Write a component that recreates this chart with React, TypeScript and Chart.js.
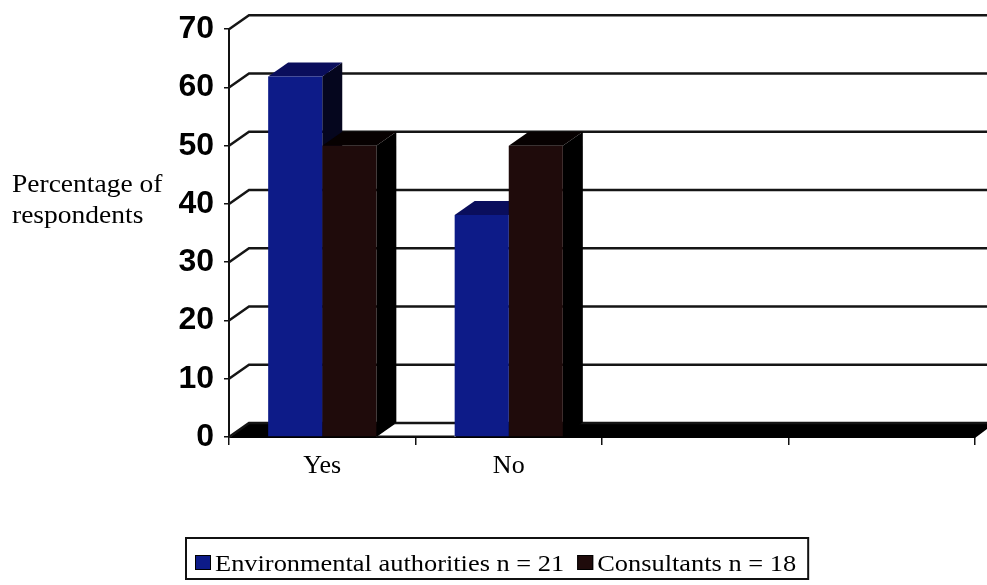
import React, { useEffect, useRef } from 'react';
import { Chart, registerables } from 'chart.js';

Chart.register(...registerables);

// Survey answers, percentage of respondents per group
const CATEGORIES = ['Yes', 'No', '', ''];
const ENV_AUTHORITIES = [61.9, 38.1, 0, 0];
const CONSULTANTS = [50, 50, 0, 0];
const SERIES_LABELS = ['Environmental authorities n = 21', 'Consultants n = 18'];
const Y_MIN = 0;
const Y_MAX = 70;
const Y_STEP = 10;
const Y_TITLE = ['Percentage of', 'respondents'];

const SERIF = "'Liberation Serif', 'Times New Roman', serif";
const SANS = "'Liberation Sans', Arial, sans-serif";

// pseudo-3D depth of the columns and the back wall
const DX = 20;
const DY = 14;
const TEXT_STRETCH = 1.1;

const FACE = [
  { front: '#0d1b88', top: '#0a0e5c', side: '#05061e' },
  { front: '#1f0b0b', top: '#070101', side: '#000000' },
];

function poly(ctx: CanvasRenderingContext2D, pts: number[][], fill: string) {
  ctx.beginPath();
  ctx.moveTo(pts[0][0], pts[0][1]);
  for (let i = 1; i < pts.length; i++) ctx.lineTo(pts[i][0], pts[i][1]);
  ctx.closePath();
  ctx.fillStyle = fill;
  ctx.fill();
}

const depthPlugin = {
  id: 'depth3d',
  beforeDatasetsDraw(chart: any) {
    const { ctx, chartArea: a, scales } = chart;
    const y = scales.y;
    ctx.save();

    // floor slab
    poly(ctx, [[a.left, a.bottom + 1], [a.left + DX, a.bottom - DY], [a.right + DX, a.bottom - DY], [a.right, a.bottom + 1]], '#000');

    // open floor between neighbouring non-empty groups
    const metas = chart.data.datasets.map((_: any, i: number) => chart.getDatasetMeta(i));
    const hasData = (j: number) => chart.data.datasets.some((d: any) => d.data[j] !== 0);
    for (let j = 0; j < CATEGORIES.length - 1; j++) {
      if (!hasData(j) || !hasData(j + 1)) continue;
      const r = Math.max(...metas.map((m: any) => m.data[j].x + m.data[j].width / 2));
      const l = Math.min(...metas.map((m: any) => m.data[j + 1].x - m.data[j + 1].width / 2));
      poly(ctx, [[r, a.bottom], [r + DX, a.bottom - DY], [l + DX, a.bottom - DY], [l, a.bottom]], '#fff');
      ctx.strokeStyle = '#111';
      ctx.lineWidth = 2;
      ctx.beginPath();
      ctx.moveTo(r, a.bottom - 0.5);
      ctx.lineTo(l, a.bottom - 0.5);
      ctx.stroke();
    }

    // back wall grid lines with diagonal connectors to the front axis
    ctx.strokeStyle = '#151515';
    ctx.lineWidth = 2.5;
    for (let v = Y_MIN; v <= Y_MAX; v += Y_STEP) {
      const py = y.getPixelForValue(v);
      ctx.beginPath();
      ctx.moveTo(a.left, py);
      ctx.lineTo(a.left + DX, py - DY);
      ctx.lineTo(a.right + DX, py - DY);
      ctx.stroke();
    }

    // side and top faces of each column
    metas.forEach((m: any, i: number) => {
      m.data.forEach((bar: any, j: number) => {
        if (chart.data.datasets[i].data[j] === 0) return;
        const p = bar.getProps(['x', 'y', 'base', 'width'], true);
        const x0 = p.x - p.width / 2;
        const x1 = p.x + p.width / 2;
        poly(ctx, [[x1, p.y], [x1 + DX, p.y - DY], [x1 + DX, p.base - DY], [x1, p.base]], FACE[i].side);
        poly(ctx, [[x0, p.y], [x0 + DX, p.y - DY], [x1 + DX, p.y - DY], [x1, p.y]], FACE[i].top);
      });
    });
    ctx.restore();
  },
  afterDraw(chart: any) {
    const { ctx } = chart;
    ctx.save();
    ctx.fillStyle = '#000';
    ctx.textBaseline = 'alphabetic';
    ctx.textAlign = 'left';

    // horizontal y-axis title
    ctx.font = `25px ${SERIF}`;
    const baselines = [192, 223];
    Y_TITLE.forEach((t, i) => {
      ctx.save();
      ctx.translate(12, baselines[i]);
      ctx.scale(TEXT_STRETCH, 1);
      ctx.fillText(t, 0, 0);
      ctx.restore();
    });

    // boxed legend
    ctx.font = `24px ${SERIF}`;
    const boxLeft = 186;
    const boxTop = 538;
    const boxBottom = 579;
    const base = 571;
    let x = boxLeft + 9;
    chart.data.datasets.forEach((d: any, i: number) => {
      if (i > 0) x += 13;
      ctx.fillStyle = d.backgroundColor;
      ctx.fillRect(x, 555, 16, 15);
      ctx.strokeStyle = '#000';
      ctx.lineWidth = 1;
      ctx.strokeRect(x + 0.5, 555.5, 15, 14);
      x += 20;
      ctx.fillStyle = '#000';
      ctx.save();
      ctx.translate(x, base);
      ctx.scale(TEXT_STRETCH, 1);
      ctx.fillText(d.label, 0, 0);
      ctx.restore();
      x += ctx.measureText(d.label).width * TEXT_STRETCH;
    });
    const boxRight = x + 12;
    ctx.strokeStyle = '#111';
    ctx.lineWidth = 2;
    ctx.strokeRect(boxLeft, boxTop, boxRight - boxLeft, boxBottom - boxTop);
    ctx.restore();
  },
};

export default function App() {
  const canvasRef = useRef<HTMLCanvasElement | null>(null);

  useEffect(() => {
    if (!canvasRef.current) return;
    const chart = new Chart(canvasRef.current, {
      type: 'bar',
      data: {
        labels: CATEGORIES,
        datasets: [
          { label: SERIES_LABELS[0], data: ENV_AUTHORITIES, backgroundColor: FACE[0].front, borderWidth: 0 },
          { label: SERIES_LABELS[1], data: CONSULTANTS, backgroundColor: FACE[1].front, borderWidth: 0 },
        ],
      },
      options: {
        animation: false,
        responsive: false,
        maintainAspectRatio: false,
        layout: { padding: { top: 27, right: 12, left: 0, bottom: 0 } },
        datasets: { bar: { categoryPercentage: 0.58, barPercentage: 1 } },
        plugins: { legend: { display: false }, tooltip: { enabled: false } },
        scales: {
          x: {
            grid: { offset: true, drawOnChartArea: false, drawTicks: true, tickLength: 8, color: '#111', lineWidth: 1.5 },
            border: { display: false },
            ticks: { color: '#000', font: { family: SERIF, size: 26 }, padding: 6, maxRotation: 0 },
            afterFit: (s: any) => { s.height = 148; },
          },
          y: {
            min: Y_MIN,
            max: Y_MAX,
            grid: { drawOnChartArea: false, drawTicks: true, tickLength: 5, color: '#111', lineWidth: 1.5 },
            border: { display: true, color: '#111', width: 2 },
            ticks: { stepSize: Y_STEP, color: '#000', font: { family: SANS, size: 32, weight: 'bold' }, padding: 10 },
            afterFit: (s: any) => { s.width = 229; },
          },
        },
      },
      plugins: [depthPlugin],
    });
    return () => chart.destroy();
  }, []);

  return (
    <div style={{ position: 'fixed', left: 0, top: 0, width: 987, height: 585, background: '#fff' }}>
      <canvas ref={canvasRef} width={987} height={585} />
    </div>
  );
}
